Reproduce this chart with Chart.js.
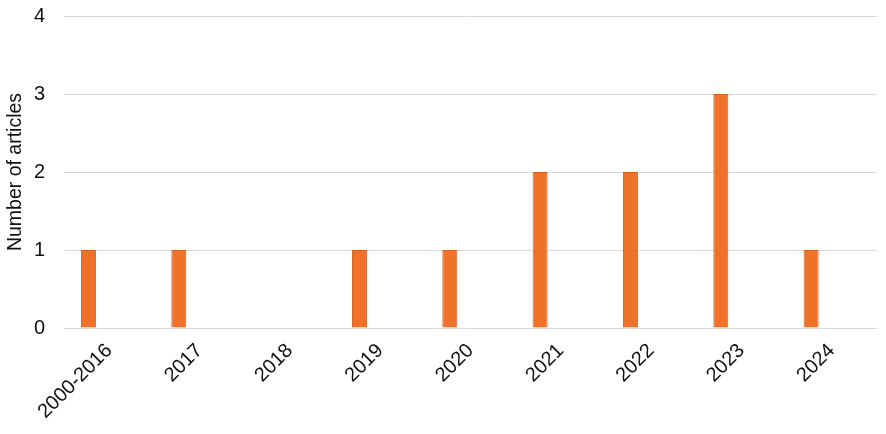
<!DOCTYPE html>
<html>
<head>
<meta charset="utf-8">
<script src="https://cdn.jsdelivr.net/npm/chart.js@4"></script>
<style>
html,body{margin:0;padding:0;background:#fff;}
#wrap{width:886px;height:434px;}
</style>
</head>
<body>
<div id="wrap"><canvas id="c" width="886" height="434"></canvas></div>
<script>
const categories = ['2000-2016','2017','2018','2019','2020','2021','2022','2023','2024'];
const articles = [1,1,0,1,1,2,2,3,1];
const emptySeries = [];
const yTicks = [0,1,2,3,4];

const font = 'Liberation Sans, Arial, sans-serif';
new Chart(document.getElementById('c'), {
  type: 'bar',
  data: {
    labels: categories,
    datasets: [
      {label: 'Number of articles', data: articles, backgroundColor: '#F0712A', borderColor: '#D2621F', borderWidth: 1,
       categoryPercentage: 0.917, barPercentage: 0.362},
      {label: '', data: emptySeries, backgroundColor: 'rgba(0,0,0,0)',
       categoryPercentage: 0.917, barPercentage: 0.362}
    ]
  },
  options: {
    responsive: false,
    animation: false,
    layout: {padding: {top: 16, right: 9, bottom: 0, left: 0}},
    plugins: {legend: {display: false}, tooltip: {enabled: false}},
    scales: {
      x: {
        grid: {display: false},
        border: {display: false},
        ticks: {color: '#111', font: {family: font, size: 20}, minRotation: 45, maxRotation: 45, padding: 3},
        afterFit: s => { s.height = 106; }
      },
      y: {
        min: 0, max: 4,
        afterBuildTicks: s => { s.ticks = yTicks.map(v => ({value: v})); },
        grid: {color: '#d9d9d9', lineWidth: 1, drawTicks: false},
        border: {display: false},
        ticks: {color: '#111', font: {family: font, size: 20}, padding: 19},
        title: {display: true, text: 'Number of articles', color: '#111', font: {family: font, size: 19.5}, padding: {top: 4, bottom: 0}},
        afterFit: s => { s.width = 64; s.paddingTop = 0; s.paddingBottom = 0; }
      }
    }
  }
});
</script>
</body>
</html>
